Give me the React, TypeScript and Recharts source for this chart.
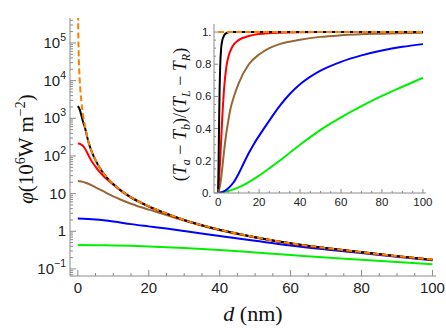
import React from 'react';
import { LineChart, Line, XAxis, YAxis, Label } from 'recharts';

// ---------- main panel data: phi (10^6 W m^-2) vs d (nm) ----------
const dLimit = [0.05, 0.1, 0.2, 0.3, 0.5, 0.7, 1, 1.5, 2, 3, 4, 5, 6, 8, 10, 12, 15, 20, 25, 30, 40, 50, 60, 70, 80, 90, 100];
const phiLimit = [1000000, 353000, 82000, 35000, 12000, 5900, 2800, 1200, 650, 240, 125, 78, 52, 28, 18, 12.5, 8.0, 4.6, 2.95, 2.0, 1.1, 0.7, 0.48, 0.36, 0.28, 0.22, 0.177];

const dMain = [0, 0.5, 1, 1.5, 2, 3, 4, 5, 6, 8, 10, 12, 15, 20, 25, 30, 40, 50, 60, 70, 80, 90, 100];
const phiBlack = [2100, 1750, 1200, 800, 570, 235, 124, 77.5, 51.5, 27.8, 17.9, 12.45, 7.97, 4.58, 2.94, 1.99, 1.095, 0.697, 0.478, 0.358, 0.279, 0.219, 0.176];
const phiRed = [213, 212, 200, 182, 158, 105, 70, 52, 39, 25, 17.3, 12.2, 7.9, 4.56, 2.93, 1.98, 1.09, 0.695, 0.477, 0.357, 0.278, 0.219, 0.176];
const phiBrown = [21.5, 21.3, 21, 20.5, 19.8, 18.3, 16.5, 14.7, 13.2, 10.5, 8.5, 7.0, 5.4, 3.75, 2.7, 1.92, 1.06, 0.685, 0.472, 0.354, 0.276, 0.217, 0.175];
const dSoft = [0, 5, 10, 15, 20, 25, 30, 40, 50, 60, 70, 80, 90, 100];
const phiBlue = [2.17, 2.05, 1.82, 1.55, 1.35, 1.18, 1.02, 0.75, 0.56, 0.42, 0.33, 0.265, 0.21, 0.17];
const phiGreen = [0.43, 0.428, 0.42, 0.41, 0.395, 0.378, 0.36, 0.32, 0.275, 0.235, 0.2, 0.175, 0.152, 0.133];

// ---------- inset data: (Ta - Tb)/(TL - TR) vs d (nm) ----------
const dInBlack = [0, 0.25, 0.5, 0.75, 1, 1.5, 2, 3, 4, 6, 10, 100];
const rBlack = [0, 0.2, 0.45, 0.65, 0.78, 0.9, 0.945, 0.98, 0.993, 1, 1, 1];
const dInRed = [0, 1, 2, 3, 4, 5, 7, 10, 15, 20, 30, 50, 100];
const rRed = [0, 0.2, 0.46, 0.66, 0.78, 0.845, 0.91, 0.95, 0.975, 0.988, 0.996, 1, 1];
const dInBrown = [0, 1, 2, 3, 4, 5, 6, 8, 10, 15, 20, 25, 30, 40, 50, 60, 80, 100];
const rBrown = [0, 0.05, 0.15, 0.27, 0.37, 0.45, 0.52, 0.61, 0.68, 0.8, 0.86, 0.9, 0.925, 0.952, 0.97, 0.98, 0.99, 0.995];
const dInBlue = [0, 2.5, 5, 7.5, 10, 12.5, 15, 17.5, 20, 25, 30, 35, 40, 50, 60, 70, 80, 90, 100];
const rBlue = [0, 0.008, 0.03, 0.065, 0.12, 0.185, 0.248, 0.305, 0.355, 0.45, 0.54, 0.615, 0.675, 0.76, 0.815, 0.855, 0.885, 0.908, 0.925];
const dInGreen = [0, 5, 10, 15, 20, 25, 30, 35, 40, 45, 50, 60, 70, 80, 90, 100];
const rGreen = [0, 0.012, 0.035, 0.068, 0.108, 0.153, 0.2, 0.25, 0.3, 0.347, 0.392, 0.47, 0.54, 0.603, 0.66, 0.716];
const dInLimit = [0, 100];
const rLimit = [1, 1];

// ---------- ticks ----------
const mainXTicks = [0, 5, 10, 15, 20, 25, 30, 35, 40, 45, 50, 55, 60, 65, 70, 75, 80, 85, 90, 95, 100];
const mainYTicks = [0.07, 0.08, 0.09, 0.1, 0.2, 0.3, 0.4, 0.5, 0.6, 0.7, 0.8, 0.9, 1, 2, 3, 4, 5, 6, 7, 8, 9, 10, 20, 30, 40, 50, 60, 70, 80, 90, 100, 200, 300, 400, 500, 600, 700, 800, 900, 1000, 2000, 3000, 4000, 5000, 6000, 7000, 8000, 9000, 10000, 20000, 30000, 40000, 50000, 60000, 70000, 80000, 90000, 100000, 200000, 300000, 400000];
const insetXTicks = [0, 5, 10, 15, 20, 25, 30, 35, 40, 45, 50, 55, 60, 65, 70, 75, 80, 85, 90, 95, 100];
const insetYTicks = [0, 0.05, 0.1, 0.15, 0.2, 0.25, 0.3, 0.35, 0.4, 0.45, 0.5, 0.55, 0.6, 0.65, 0.7, 0.75, 0.8, 0.85, 0.9, 0.95, 1];
const insetYLabels: Record<string, string> = { '0': '0.', '0.2': '0.2', '0.4': '0.4', '0.6': '0.6', '0.8': '0.8', '1': '1.' };

const zip = (xs: number[], ys: number[]) => xs.map((d, i) => ({ d, v: ys[i] }));

const FRAME = '#8a8a8a';
const TICKFONT = 'Liberation Sans, Arial, sans-serif';
const SERIF = 'Liberation Serif, Times New Roman, serif';
const ORANGE = '#ff8000';
const BROWN = '#996633';
const GREEN = '#00f000';

const isDecade = (v: number) => Math.abs(Math.log10(v) - Math.round(Math.log10(v))) < 1e-6;
const isMult = (v: number, m: number) => Math.abs(v / m - Math.round(v / m)) < 1e-6;

// generic inward tick factory
const makeTick = (
  side: 'left' | 'right' | 'top' | 'bottom',
  isMajor: (v: number) => boolean,
  majorLen: number,
  minorLen: number,
  label?: (v: number, x: number, y: number) => React.ReactNode
) => (props: any) => {
  const { x, y, payload } = props;
  const v = payload.value as number;
  const major = isMajor(v);
  const len = major ? majorLen : minorLen;
  let x2 = x, y2 = y;
  if (side === 'left') x2 = x + len;
  if (side === 'right') x2 = x - len;
  if (side === 'top') y2 = y + len;
  if (side === 'bottom') y2 = y - len;
  return (
    <g>
      <line x1={x} y1={y} x2={x2} y2={y2} stroke={FRAME} strokeWidth={1} />
      {major && label ? label(v, x, y) : null}
    </g>
  );
};

const mainYLabel = (v: number, x: number, y: number) => {
  const n = Math.round(Math.log10(v));
  const common = { x: x - 4, y: y + 5, textAnchor: 'end' as const, fontFamily: TICKFONT, fontSize: 15, fill: '#222' };
  if (n === 0) return <text {...common}>1</text>;
  if (n === 1) return <text {...common}>10</text>;
  return (
    <text {...common}>
      10<tspan dy={-7} fontSize={10.5}>{n < 0 ? '\u2212' + Math.abs(n) : String(n)}</tspan>
    </text>
  );
};

const mainXLabel = (v: number, x: number, y: number) => (
  <text x={x} y={y + 17} textAnchor="middle" fontFamily={TICKFONT} fontSize={15} fill="#222">{v}</text>
);

const insetXLabel = (v: number, x: number, y: number) => (
  <text x={x} y={y + 13} textAnchor="middle" fontFamily={TICKFONT} fontSize={11.5} fill="#222">{v}</text>
);

const insetYLabel = (v: number, x: number, y: number) => (
  <text x={x - 2.5} y={y + 4} textAnchor="end" fontFamily={TICKFONT} fontSize={11.5} fill="#222">{insetYLabels[String(Math.round(v * 10) / 10)]}</text>
);

const MainXTitle = (props: any) => {
  const vb = props.viewBox;
  const cx = vb.x + vb.width / 2;
  return (
    <text x={cx} y={vb.y + 45} textAnchor="middle" fontFamily={SERIF} fontSize={22} fill="#111">
      <tspan fontStyle="italic">d</tspan> (nm)
    </text>
  );
};

const MainYTitle = (props: any) => {
  const vb = props.viewBox;
  const cx = vb.x + 18;
  const cy = vb.y + vb.height / 2 + 2;
  return (
    <text x={cx} y={cy + 7} transform={`rotate(-90 ${cx} ${cy})`} textAnchor="middle" fontFamily={SERIF} fontSize={21} fill="#111">
      <tspan fontStyle="italic">φ</tspan>(10<tspan dy={-8} fontSize={14}>6</tspan><tspan dy={8}>W m</tspan><tspan dy={-8} fontSize={14}>−2</tspan><tspan dy={8}>)</tspan>
    </text>
  );
};

const InsetYTitle = (props: any) => {
  const vb = props.viewBox;
  const cx = vb.x + 6;
  const cy = vb.y + vb.height / 2 + 6;
  return (
    <text x={cx} y={cy + 6} transform={`rotate(-90 ${cx} ${cy})`} textAnchor="middle" fontFamily={SERIF} fontSize={18} fill="#111">
      (<tspan fontStyle="italic">T</tspan><tspan fontStyle="italic" fontSize={12} dy={3.5}>a</tspan><tspan dy={-3.5}> − </tspan><tspan fontStyle="italic">T</tspan><tspan fontStyle="italic" fontSize={12} dy={3.5}>b</tspan><tspan dy={-3.5}>)/(</tspan><tspan fontStyle="italic">T</tspan><tspan fontStyle="italic" fontSize={12} dy={3.5}>L</tspan><tspan dy={-3.5}> − </tspan><tspan fontStyle="italic">T</tspan><tspan fontStyle="italic" fontSize={12} dy={3.5}>R</tspan><tspan dy={-3.5}>)</tspan>
    </text>
  );
};

const MAIN_X_DOMAIN: [number, number] = [-2.2, 101];
const MAIN_Y_DOMAIN: [number, number] = [0.065, 460000];
const IN_X_DOMAIN: [number, number] = [-2, 101.5];
const IN_Y_DOMAIN: [number, number] = [0, 1.05];

const lineCommon = { type: 'monotone' as const, dataKey: 'v', dot: false, isAnimationActive: false, xAxisId: 'x', yAxisId: 'y' };

export default function App() {
  return (
    <div style={{ position: 'absolute', left: 0, top: 0, width: 446, height: 333, background: '#fff' }}>
      <LineChart width={446} height={333} margin={{ top: 18, right: 10, bottom: 17, left: 8 }}>
        <XAxis xAxisId="x" type="number" dataKey="d" domain={MAIN_X_DOMAIN} allowDataOverflow ticks={mainXTicks} interval={0}
          tickSize={0} tickMargin={0} tickLine={false} axisLine={{ stroke: FRAME }} height={40}
          tick={makeTick('bottom', (v) => isMult(v, 20), 6, 3, mainXLabel)}
          label={<Label content={MainXTitle} />} />
        <XAxis xAxisId="xt" orientation="top" type="number" dataKey="d" domain={MAIN_X_DOMAIN} allowDataOverflow ticks={mainXTicks} interval={0}
          tickSize={0} tickMargin={0} tickLine={false} axisLine={{ stroke: FRAME }} height={0}
          tick={makeTick('top', (v) => isMult(v, 20), 6, 3)} />
        <YAxis yAxisId="y" type="number" scale="log" domain={MAIN_Y_DOMAIN} allowDataOverflow ticks={mainYTicks} interval={0}
          tickSize={0} tickMargin={0} tickLine={false} axisLine={{ stroke: FRAME }} width={62}
          tick={makeTick('left', isDecade, 6, 3, mainYLabel)}
          label={<Label content={MainYTitle} />} />
        <YAxis yAxisId="yr" orientation="right" type="number" scale="log" domain={MAIN_Y_DOMAIN} allowDataOverflow ticks={mainYTicks} interval={0}
          tickSize={0} tickMargin={0} tickLine={false} axisLine={{ stroke: FRAME }} width={0}
          tick={makeTick('right', isDecade, 6, 3)} />
        <Line {...lineCommon} data={zip(dSoft, phiGreen)} stroke={GREEN} strokeWidth={2} />
        <Line {...lineCommon} data={zip(dSoft, phiBlue)} stroke="#0000ff" strokeWidth={2} />
        <Line {...lineCommon} data={zip(dMain, phiBrown)} stroke={BROWN} strokeWidth={2} />
        <Line {...lineCommon} data={zip(dMain, phiRed)} stroke="#ff0000" strokeWidth={2} />
        <Line {...lineCommon} data={zip(dMain, phiBlack)} stroke="#000000" strokeWidth={2} />
        <Line {...lineCommon} data={zip(dLimit, phiLimit)} stroke={ORANGE} strokeWidth={2} strokeDasharray="6 3" />
      </LineChart>

      <div style={{ position: 'absolute', left: 160, top: 18, width: 270, height: 192, background: '#fff' }} />
      <div style={{ position: 'absolute', left: 160, top: 18, width: 276, height: 192 }}>
        <LineChart width={276} height={192} margin={{ top: 6, right: 10, bottom: 0, left: 14 }}>
          <XAxis xAxisId="x" type="number" dataKey="d" domain={IN_X_DOMAIN} allowDataOverflow ticks={insetXTicks} interval={0}
            tickSize={0} tickMargin={0} tickLine={false} axisLine={{ stroke: FRAME }} height={17}
            tick={makeTick('bottom', (v) => isMult(v, 20), 4, 2, insetXLabel)} />
          <XAxis xAxisId="xt" orientation="top" type="number" dataKey="d" domain={IN_X_DOMAIN} allowDataOverflow ticks={insetXTicks} interval={0}
            tickSize={0} tickMargin={0} tickLine={false} axisLine={{ stroke: FRAME }} height={0}
            tick={makeTick('top', (v) => isMult(v, 20), 4, 2)} />
          <YAxis yAxisId="y" type="number" domain={IN_Y_DOMAIN} allowDataOverflow ticks={insetYTicks} interval={0}
            tickSize={0} tickMargin={0} tickLine={false} axisLine={{ stroke: FRAME }} width={40}
            tick={makeTick('left', (v) => isMult(v, 0.2), 4, 2, insetYLabel)}
            label={<Label content={InsetYTitle} />} />
          <YAxis yAxisId="yr" orientation="right" type="number" domain={IN_Y_DOMAIN} allowDataOverflow ticks={insetYTicks} interval={0}
            tickSize={0} tickMargin={0} tickLine={false} axisLine={{ stroke: FRAME }} width={0}
            tick={makeTick('right', (v) => isMult(v, 0.2), 4, 2)} />
          <Line {...lineCommon} data={zip(dInGreen, rGreen)} stroke={GREEN} strokeWidth={2} />
          <Line {...lineCommon} data={zip(dInBlue, rBlue)} stroke="#0000ff" strokeWidth={2} />
          <Line {...lineCommon} data={zip(dInBrown, rBrown)} stroke={BROWN} strokeWidth={2} />
          <Line {...lineCommon} data={zip(dInRed, rRed)} stroke="#ff0000" strokeWidth={2} />
          <Line {...lineCommon} data={zip(dInBlack, rBlack)} stroke="#000000" strokeWidth={2} />
          <Line {...lineCommon} data={zip(dInLimit, rLimit)} stroke={ORANGE} strokeWidth={2} strokeDasharray="6 3" />
        </LineChart>
      </div>
    </div>
  );
}
